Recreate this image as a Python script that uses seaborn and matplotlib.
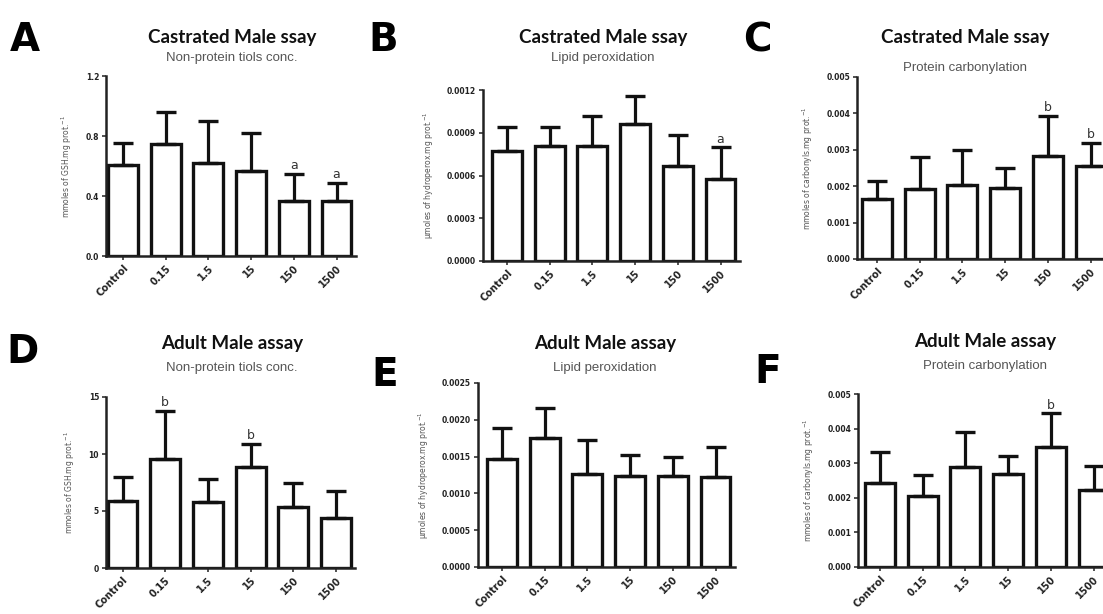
import matplotlib
matplotlib.use("Agg")
import matplotlib.pyplot as plt
import seaborn as sns
import pandas as pd

# ==============================
# DATA
# ==============================
doses = ["Control", "0.15", "1.5", "15", "150", "1500"]

# A - castrated, non-protein thiols
a_mean = [0.61, 0.75, 0.62, 0.57, 0.37, 0.37]
a_top = [0.755, 0.96, 0.90, 0.82, 0.55, 0.49]
a_sig = ["", "", "", "", "a", "a"]

# B - castrated, lipid peroxidation
b_mean = [0.000775, 0.00081, 0.000805, 0.000964, 0.000665, 0.000577]
b_top = [0.00094, 0.00094, 0.00102, 0.001156, 0.000883, 0.000798]
b_sig = ["", "", "", "", "", "a"]

# C - castrated, protein carbonylation
c_mean = [0.00166, 0.00191, 0.00202, 0.00194, 0.00284, 0.00255]
c_top = [0.00214, 0.0028, 0.0030, 0.00249, 0.00393, 0.00319]
c_sig = ["", "", "", "", "b", "b"]

# D - adult, non-protein thiols
d_mean = [5.91, 9.52, 5.82, 8.82, 5.33, 4.37]
d_top = [7.95, 13.8, 7.78, 10.86, 7.43, 6.79]
d_sig = ["", "b", "", "b", "", ""]

# E - adult, lipid peroxidation
e_mean = [0.001464, 0.00175, 0.001264, 0.001236, 0.001236, 0.00122]
e_top = [0.001886, 0.00216, 0.00172, 0.00152, 0.00149, 0.00163]
e_sig = ["", "", "", "", "", ""]

# F - adult, protein carbonylation
f_mean = [0.00243, 0.00205, 0.0029, 0.00268, 0.00346, 0.00222]
f_top = [0.00333, 0.00265, 0.00389, 0.00321, 0.00444, 0.00291]
f_sig = ["", "", "", "", "b", ""]

y_ticks_a = [0.0, 0.4, 0.8, 1.2]
y_ticks_b = [0.0, 0.0003, 0.0006, 0.0009, 0.0012]
y_ticks_c = [0.000, 0.001, 0.002, 0.003, 0.004, 0.005]
y_ticks_d = [0, 5, 10, 15]
y_ticks_e = [0.0, 0.0005, 0.0010, 0.0015, 0.0020, 0.0025]
y_ticks_f = [0.000, 0.001, 0.002, 0.003, 0.004, 0.005]

fmt_a = "{:.1f}"
fmt_b = "{:.4f}"
fmt_c = "{:.3f}"
fmt_d = "{:.0f}"
fmt_e = "{:.4f}"
fmt_f = "{:.3f}"

lab_gsh = "mmoles of GSH.mg prot.$^{-1}$"
lab_hp = "μmoles of hydroperox.mg prot.$^{-1}$"
lab_carb = "mmoles of carbonyls.mg prot.$^{-1}$"

panels = [
    ("A", "Castrated Male ssay", "Non-protein tiols conc.", lab_gsh, a_mean, a_top, a_sig, y_ticks_a, fmt_a),
    ("B", "Castrated Male ssay", "Lipid peroxidation", lab_hp, b_mean, b_top, b_sig, y_ticks_b, fmt_b),
    ("C", "Castrated Male ssay", "Protein carbonylation", lab_carb, c_mean, c_top, c_sig, y_ticks_c, fmt_c),
    ("D", "Adult Male assay", "Non-protein tiols conc.", lab_gsh, d_mean, d_top, d_sig, y_ticks_d, fmt_d),
    ("E", "Adult Male assay", "Lipid peroxidation", lab_hp, e_mean, e_top, e_sig, y_ticks_e, fmt_e),
    ("F", "Adult Male assay", "Protein carbonylation", lab_carb, f_mean, f_top, f_sig, y_ticks_f, fmt_f),
]

# layout in pixels: bar0 centre, y-axis x, y of zero, y of top tick,
# panel letter pos, title pos, subtitle y
layout = [
    (123, 106, 256, 76, (25, 40), (232, 37), 58),
    (507, 483, 261, 90, (383, 40), (603, 37), 58),
    (877, 857, 259, 77, (757, 40), (965, 37), 68),
    (122.5, 106, 568, 397, (22, 352), (232, 344), 368),
    (502, 478, 567, 383, (385, 375), (605, 344), 368),
    (880, 858, 567, 394, (768, 372), (985, 342), 366),
]

W, H = 1103, 614
SP = 42.7

sns.set_style("ticks")
fig = plt.figure(figsize=(W / 100, H / 100), dpi=100)
fig.patch.set_facecolor("white")

for (letter, title, sub, ylab, mean, top, sig, yt, fmt), (c0, xl, y0, yt_px, lpos, tpos, suby) in zip(panels, layout):
    xmin = (xl - c0) / SP
    xmax = 5.45
    left = xl / W
    width = (xmax - xmin) * SP / W
    bottom = 1 - y0 / H
    height = (y0 - yt_px) / H
    ax = fig.add_axes([left, bottom, width, height])

    df = pd.DataFrame({"dose": doses, "val": mean})
    sns.barplot(data=df, x="dose", y="val", order=doses, color="white",
                edgecolor="#111111", linewidth=2.4, width=0.7, errorbar=None, ax=ax)
    err = [t - m for t, m in zip(top, mean)]
    ax.errorbar(range(len(doses)), mean, yerr=[[0] * len(doses), err], fmt="none",
                ecolor="#111111", elinewidth=2.3, capsize=7, capthick=2.4, zorder=3)
    ymax = yt[-1]
    for i, s in enumerate(sig):
        if s:
            ax.text(i, top[i] + ymax * 0.01, s, ha="center", va="bottom",
                    fontsize=9, color="#333333", clip_on=False)

    ax.set_xlim(xmin, xmax)
    ax.set_ylim(0, ymax)
    ax.set_yticks(yt)
    ax.set_yticklabels([fmt.format(v) for v in yt], fontsize=5.5, color="#222222",
                       fontweight="bold")
    ax.set_xticks(range(len(doses)))
    ax.set_xticklabels(doses, rotation=45, ha="right", rotation_mode="anchor",
                       fontsize=7, color="#222222", fontweight="bold")
    ax.set_xlabel("")
    ax.set_ylabel(ylab, fontsize=5.5, color="#555555", labelpad=8)
    ax.tick_params(axis="both", length=3, width=1.2, color="#333333", pad=2)
    for sp in ["left", "bottom"]:
        ax.spines[sp].set_linewidth(1.8)
        ax.spines[sp].set_color("#222222")
    sns.despine(ax=ax)

    fig.text(lpos[0] / W, 1 - lpos[1] / H, letter, ha="center", va="center",
             fontsize=28, fontweight="heavy", family="DejaVu Sans", color="black")
    fig.text(tpos[0] / W, 1 - tpos[1] / H, title, ha="center", va="center",
             fontsize=13.5, fontweight="bold", family="Lato", color="#111111")
    fig.text(tpos[0] / W, 1 - suby / H, sub, ha="center", va="center",
             fontsize=9.5, color="#555555", family="Liberation Sans")

fig.savefig("out.png", dpi=100, facecolor="white")
